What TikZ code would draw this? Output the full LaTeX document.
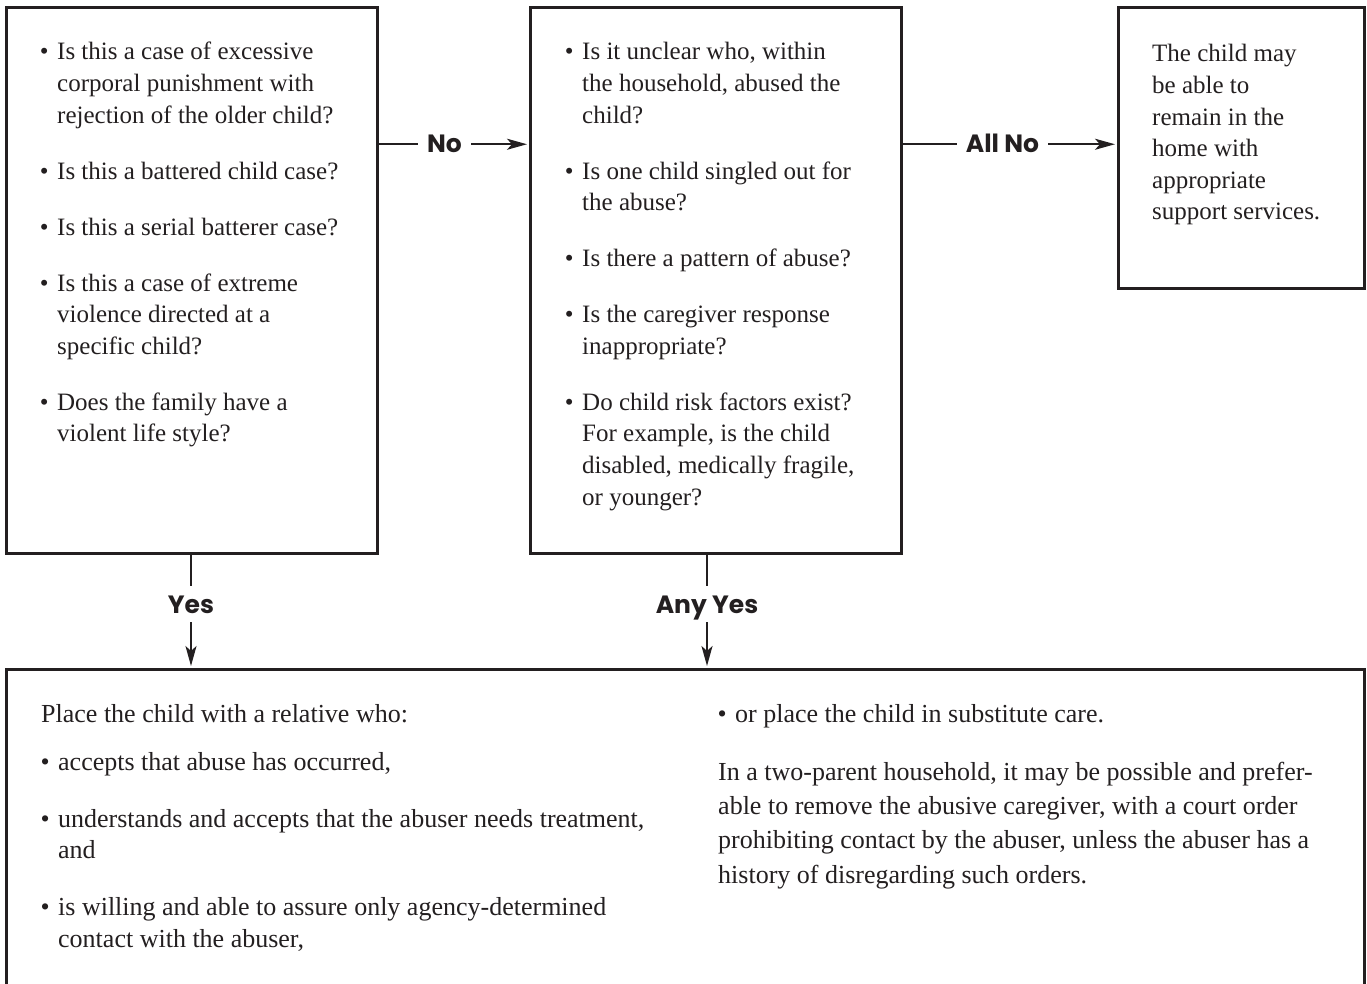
\documentclass[tikz,border=0pt]{standalone}
\usepackage{fontspec}
\setmainfont{Liberation Serif}
\newfontfamily\labelfont{Poppins}
\usetikzlibrary{arrows.meta}
\definecolor{ink}{RGB}{35,31,32}

% bullet hung to the left of the text start
\newcommand\bul{\leavevmode\llap{\textbullet\hspace{8.5pt}}}
% top-aligned text block whose baseline is its first line:
% width, line spacing, extra space between paragraphs, text
\newcommand\blk[4]{\parbox[t]{#1}{\raggedright\baselineskip=#2\parskip=#3 #4}}

\tikzset{
  box/.style={draw=ink, line width=3pt, outer sep=0pt, inner sep=0pt, anchor=north west},
  body/.style={anchor=base west, inner sep=0pt, text=ink, font=\fontsize{25}{31.6}\selectfont},
  bodylarge/.style={body, font=\fontsize{26}{33}\selectfont},
  lbl/.style={font=\labelfont\bfseries\fontsize{25}{30}\selectfont, text=ink,
              text height=17.5pt, text depth=0pt, inner xsep=9pt, inner ysep=9pt, anchor=base},
  conn/.style={draw=ink, line width=2.2pt},
  arr/.style={conn, -{Stealth[length=20pt,width=11pt,inset=5pt]}, shorten >=3pt},
}

\begin{document}
\begin{tikzpicture}[x=1pt, y=-1pt]
\useasboundingbox (0,0) rectangle (1367,984);

% question boxes
\node[box, minimum width=371pt, minimum height=545pt] (q1) at (6,8) {};
\node[box, minimum width=371pt, minimum height=545pt] (q2) at (530,8) {};
\node[box, minimum width=246pt, minimum height=280pt] (q3) at (1118,8) {};
% placement box, running off the lower edge
\node[box, minimum width=1358pt, minimum height=331pt] (res) at (6,669) {};

\node[body] (t1) at (57,60) {\blk{330pt}{31.6pt}{24.4pt}{%
\bul Is this a case of excessive\\ corporal punishment with\\ rejection of the older child?\par
\bul Is this a battered child case?\par
\bul Is this a serial batterer case?\par
\bul Is this a case of extreme\\ violence directed at a\\ specific child?\par
\bul Does the family have a\\ violent life style?}};

\node[body] (t2) at (582,60) {\blk{330pt}{31.6pt}{24.4pt}{%
\bul Is it unclear who, within\\ the household, abused the\\ child?\par
\bul Is one child singled out for\\ the abuse?\par
\bul Is there a pattern of abuse?\par
\bul Is the caregiver response\\ inappropriate?\par
\bul Do child risk factors exist?\\ For example, is the child\\ disabled, medically fragile,\\ or younger?}};

\node[body] (t3) at (1152,62) {\blk{240pt}{31.6pt}{0pt}{%
The child may\\ be able to\\ remain in the\\ home with\\ appropriate\\ support services.}};

\node[bodylarge] (t4) at (41,722) {\blk{700pt}{31.5pt}{25.5pt}{%
Place the child with a relative who:\par\vspace{-9pt}
\leftskip=17pt
\bul accepts that abuse has occurred,\par
\bul understands and accepts that the abuser needs treatment,\\ and\par
\bul is willing and able to assure only agency-determined\\ contact with the abuser,}};

\node[bodylarge] (t5) at (718,722) {\blk{700pt}{34.4pt}{23.6pt}{%
\leftskip=17pt
\bul or place the child in substitute care.\par
\leftskip=0pt
In a two-parent household, it may be possible and prefer-\\ able to remove the abusive caregiver, with a court order\\ prohibiting contact by the abuser, unless the abuser has a\\ history of disregarding such orders.}};

% decision labels
\node[lbl] (no) at (444.5,153) {No};
\node[lbl] (allno) at (1002.5,153) {All No};
\node[lbl] (yes) at (191,613) {Yes};
\node[lbl] (anyyes) at (707,613) {Any Yes};

% connectors
\draw[conn] (q1.east |- no.west) -- (no.west);
\draw[arr] (no.east) -- (no.east -| q2.west);
\draw[conn] (q2.east |- allno.west) -- (allno.west);
\draw[arr] (allno.east) -- (allno.east -| q3.west);
\draw[conn] (yes.north |- q1.south) -- (yes.north);
\draw[arr] (yes.south) -- (yes.south |- res.north);
\draw[conn] (anyyes.north |- q2.south) -- (anyyes.north);
\draw[arr] (anyyes.south) -- (anyyes.south |- res.north);
\end{tikzpicture}
\end{document}
